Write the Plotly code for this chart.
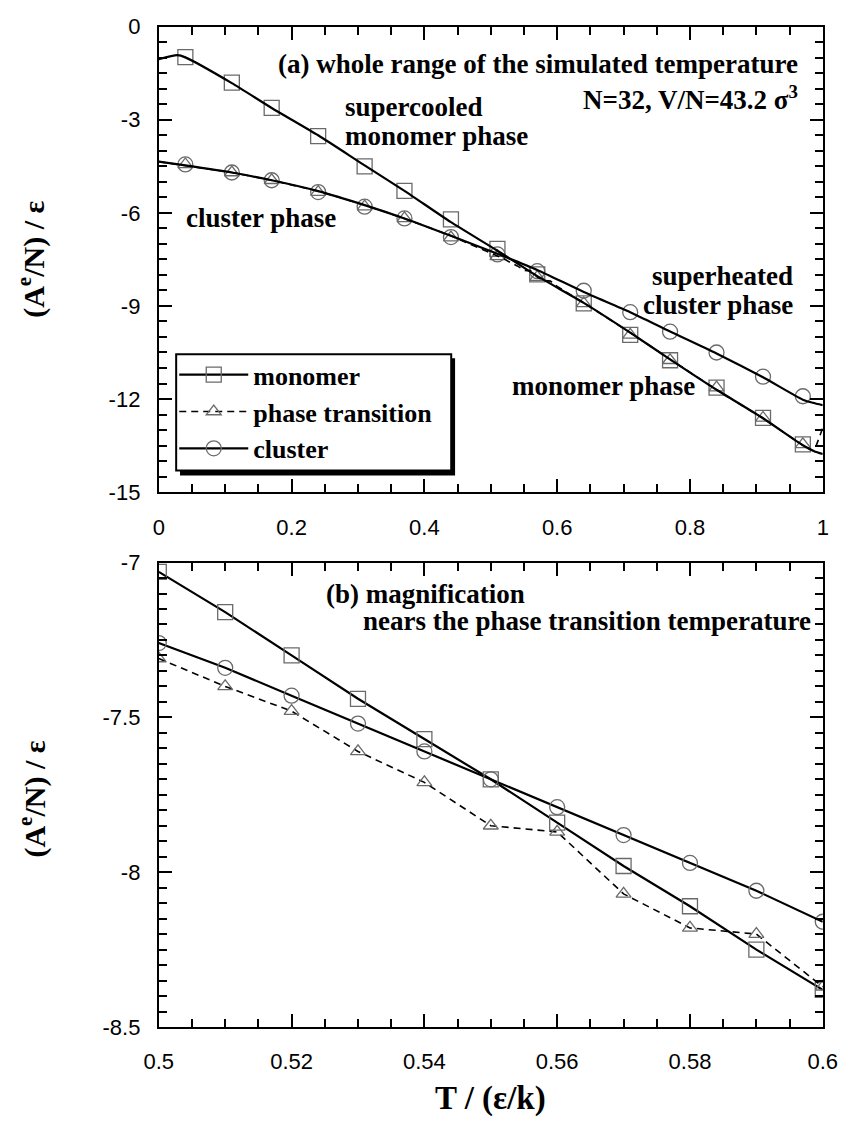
import plotly.graph_objects as go

# ---------------- panel (a): whole range of the simulated temperature ----------------
# temperatures at which symbols are drawn
T_a = [0.04, 0.11, 0.17, 0.24, 0.31, 0.37, 0.44, 0.51, 0.57, 0.64, 0.71, 0.77, 0.84, 0.91, 0.97]
monomer_a = [-0.98, -1.80, -2.62, -3.53, -4.50, -5.29, -6.21, -7.16, -7.98, -8.92, -9.93,
             -10.75, -11.63, -12.61, -13.46]
transition_a = [-4.44, -4.70, -4.95, -5.33, -5.80, -6.18, -6.80, -7.40, -8.07, -8.92, -9.93,
                -10.75, -11.63, -12.61, -13.46]
cluster_a = [-4.44, -4.70, -4.95, -5.33, -5.80, -6.18, -6.78, -7.34, -7.88, -8.51, -9.20,
             -9.83, -10.50, -11.28, -11.91]

# continuous curves of panel (a)
T_mono_curve = [0.0, 0.028, 0.04, 0.11, 0.17, 0.24, 0.31, 0.37, 0.44, 0.51, 0.57, 0.64, 0.71,
                0.77, 0.84, 0.91, 0.97, 0.987, 1.0]
mono_curve = [-1.05, -0.92, -0.99, -1.82, -2.62, -3.50, -4.47, -5.29, -6.30, -7.22, -8.04,
              -8.90, -9.86, -10.72, -11.70, -12.62, -13.49, -13.68, -13.77]
T_clus_curve = [0.0, 0.04, 0.11, 0.17, 0.24, 0.31, 0.37, 0.44, 0.51, 0.57, 0.64, 0.71, 0.77,
                0.84, 0.91, 0.97, 0.985, 1.0]
clus_curve = [-4.35, -4.47, -4.70, -4.95, -5.30, -5.75, -6.18, -6.74, -7.32, -7.84, -8.55,
              -9.20, -9.82, -10.53, -11.30, -12.02, -12.12, -12.20]
# the transition curve jumps back up at the very last temperature
T_trans_tail = [1.0]
trans_tail = [-12.93]

# ---------------- panel (b): magnification near the transition ----------------
T_b = [0.50, 0.51, 0.52, 0.53, 0.54, 0.55, 0.56, 0.57, 0.58, 0.59, 0.60]
monomer_b = [-7.03, -7.16, -7.30, -7.44, -7.57, -7.70, -7.84, -7.98, -8.11, -8.25, -8.38]
transition_b = [-7.31, -7.40, -7.48, -7.61, -7.71, -7.85, -7.87, -8.07, -8.18, -8.20, -8.37]
cluster_b = [-7.26, -7.34, -7.43, -7.52, -7.61, -7.70, -7.79, -7.88, -7.97, -8.06, -8.16]

# tick values and their labels (plain hyphen minus)
ya_ticks = [0, -3, -6, -9, -12, -15]
xa_ticks = [0, 0.2, 0.4, 0.6, 0.8, 1.0]
yb_ticks = [-7, -7.5, -8, -8.5]
xb_ticks = [0.5, 0.52, 0.54, 0.56, 0.58, 0.6]


def fmt(v):
    return "%g" % v


# dashed transition curve of panel (a): it follows the cluster branch below the
# transition window, the fine data inside it, and the monomer branch above it
trans_curve_pts = sorted(
    [(t, v) for t, v in zip(T_clus_curve, clus_curve) if t < 0.5]
    + list(zip(T_b, transition_b))
    + [(t, v) for t, v in zip(T_mono_curve, mono_curve) if 0.6 < t < 1.0]
    + list(zip(T_trans_tail, trans_tail))
)
T_trans_curve = [p[0] for p in trans_curve_pts]
trans_curve = [p[1] for p in trans_curve_pts]

SYM_COLOR = "#6a6a6a"
SERIF = "Liberation Serif"
SANS = "Liberation Sans"
DASH = "7px,5px"

fig = go.Figure()


def sym(symbol, size):
    return dict(symbol=symbol, size=size, color=SYM_COLOR, line=dict(color=SYM_COLOR, width=1.3))


# panel (a) symbols
fig.add_trace(go.Scatter(x=T_a, y=monomer_a, mode="markers", xaxis="x", yaxis="y",
                         marker=sym("square-open", 15), showlegend=False))
fig.add_trace(go.Scatter(x=T_a, y=transition_a, mode="markers", xaxis="x", yaxis="y",
                         marker=sym("triangle-up-open", 13), showlegend=False))
fig.add_trace(go.Scatter(x=T_a, y=cluster_a, mode="markers", xaxis="x", yaxis="y",
                         marker=sym("circle-open", 15), showlegend=False))
# panel (a) curves
fig.add_trace(go.Scatter(x=T_trans_curve, y=trans_curve, mode="lines", xaxis="x", yaxis="y",
                         line=dict(color="black", width=1.6, dash=DASH),
                         showlegend=False))
fig.add_trace(go.Scatter(x=T_mono_curve, y=mono_curve, mode="lines", xaxis="x", yaxis="y",
                         line=dict(color="black", width=2.2, shape="spline", smoothing=0.6),
                         showlegend=False))
fig.add_trace(go.Scatter(x=T_clus_curve, y=clus_curve, mode="lines", xaxis="x", yaxis="y",
                         line=dict(color="black", width=2.2, shape="spline", smoothing=0.6),
                         showlegend=False))

# panel (b) series (these also feed the legend)
fig.add_trace(go.Scatter(x=T_b, y=monomer_b, mode="lines+markers", xaxis="x2", yaxis="y2",
                         name="monomer", line=dict(color="black", width=2.2),
                         marker=sym("square-open", 15)))
fig.add_trace(go.Scatter(x=T_b, y=transition_b, mode="lines+markers", xaxis="x2", yaxis="y2",
                         name="phase transition",
                         line=dict(color="black", width=1.6, dash=DASH),
                         marker=sym("triangle-up-open", 13)))
fig.add_trace(go.Scatter(x=T_b, y=cluster_b, mode="lines+markers", xaxis="x2", yaxis="y2",
                         name="cluster", line=dict(color="black", width=2.2),
                         marker=sym("circle-open", 15)))

W, H = 859, 1129
PX_L, PX_R = 149, 837
A_TOP, A_BOT = 15, 491
B_TOP, B_BOT = 563, 1038

axis_common = dict(showline=True, linewidth=2, linecolor="black", mirror="allticks",
                   ticks="inside", ticklen=13, tickwidth=2, tickcolor="black",
                   showgrid=False, zeroline=False,
                   tickfont=dict(family=SANS, size=22, color="black"))


def minor(step):
    return dict(dtick=step, ticks="inside", ticklen=8, tickwidth=2, tickcolor="black",
                showgrid=False)


fig.update_layout(
    width=W, height=H,
    margin=dict(l=0, r=0, t=0, b=0),
    paper_bgcolor="white", plot_bgcolor="white",
    xaxis=dict(domain=[PX_L / W, PX_R / W], range=[0, 1], anchor="y",
               tickvals=xa_ticks, ticktext=[fmt(v) for v in xa_ticks],
               ticklabelstandoff=14, minor=minor(0.05), **axis_common),
    yaxis=dict(domain=[1 - A_BOT / H, 1 - A_TOP / H], range=[-15, 0], anchor="x",
               tickvals=ya_ticks, ticktext=[fmt(v) for v in ya_ticks],
               ticklabelstandoff=12, minor=minor(0.5), **axis_common),
    xaxis2=dict(domain=[PX_L / W, PX_R / W], range=[0.5, 0.6], anchor="y2",
                tickvals=xb_ticks, ticktext=[fmt(v) for v in xb_ticks],
                ticklabelstandoff=14, minor=minor(0.005), **axis_common),
    yaxis2=dict(domain=[1 - B_BOT / H, 1 - B_TOP / H], range=[-8.5, -7], anchor="x2",
                tickvals=yb_ticks, ticktext=[fmt(v) for v in yb_ticks],
                ticklabelstandoff=12, minor=minor(0.05), **axis_common),
    legend=dict(x=165 / W, y=1 - 347 / H, xanchor="left", yanchor="top",
                bgcolor="rgba(0,0,0,0)", borderwidth=0,
                font=dict(family=SERIF, size=26, weight="bold", color="black"),
                itemwidth=69, tracegroupgap=0, traceorder="normal"),
)

# legend frame with its drop shadow
fig.add_shape(type="rect", xref="paper", yref="paper", layer="above",
              x0=171 / W, x1=456 / W, y0=1 - 474 / H, y1=1 - 354 / H,
              fillcolor="black", line=dict(width=0))
fig.add_shape(type="rect", xref="paper", yref="paper", layer="above",
              x0=167 / W, x1=452 / W, y0=1 - 469 / H, y1=1 - 350 / H,
              fillcolor="white", line=dict(color="black", width=2))

bold = dict(family=SERIF, size=27, weight="bold", color="black")
notes = [
    # text, xref, yref, x, y, xanchor
    ("(a) whole range of the simulated temperature", "x", "y", 0.965, -1.20, "right"),
    ("N=32, V/N=43.2 σ<sup>3</sup>", "x", "y", 0.965, -2.30, "right"),
    ("supercooled", "x", "y", 0.278, -2.58, "left"),
    ("monomer phase", "x", "y", 0.278, -3.53, "left"),
    ("cluster phase", "x", "y", 0.038, -6.15, "left"),
    ("superheated", "x", "y", 0.958, -8.04, "right"),
    ("cluster phase", "x", "y", 0.958, -8.98, "right"),
    ("monomer phase", "x", "y", 0.529, -11.57, "left"),
    ("(b) magnification", "x2", "y2", 0.5249, -7.102, "left"),
    ("nears the phase transition temperature", "x2", "y2", 0.5304, -7.19, "left"),
]
for text, xr, yr, x, y, xa in notes:
    fig.add_annotation(text=text, xref=xr, yref=yr, x=x, y=y, xanchor=xa, yanchor="middle",
                       showarrow=False, font=bold)

# axis titles
title_font = dict(family=SERIF, size=30, weight="bold", color="black")
fig.add_annotation(text="(A<sup>e</sup>/N) / ε", xref="paper", yref="paper",
                   x=17 / W, y=1 - 253 / H, textangle=-90, showarrow=False,
                   xanchor="center", yanchor="middle", font=title_font)
fig.add_annotation(text="(A<sup>e</sup>/N) / ε", xref="paper", yref="paper",
                   x=18 / W, y=1 - 805 / H, textangle=-90, showarrow=False,
                   xanchor="center", yanchor="middle", font=title_font)
fig.add_annotation(text="T / (ε/k)", xref="paper", yref="paper",
                   x=493 / W, y=1 - 1111 / H, showarrow=False,
                   xanchor="center", yanchor="middle",
                   font=dict(family=SERIF, size=33, weight="bold", color="black"))

fig.write_html("out.html")
